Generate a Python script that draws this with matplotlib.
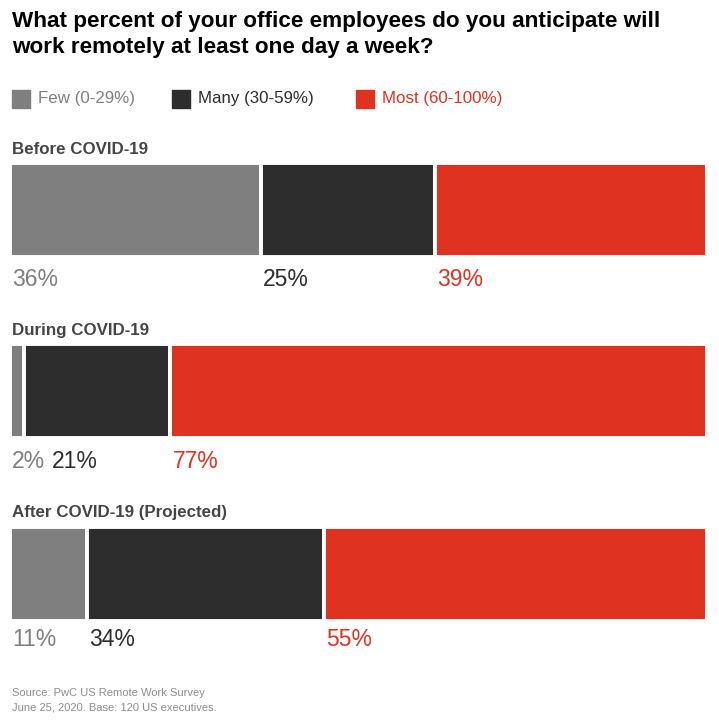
import matplotlib
matplotlib.use("Agg")
import matplotlib.pyplot as plt
from matplotlib.patches import Rectangle

# data
groups = ["Before COVID-19", "During COVID-19", "After COVID-19 (Projected)"]
categories = ["Few (0-29%)", "Many (30-59%)", "Most (60-100%)"]
few = [36, 2, 11]
many = [25, 21, 34]
most = [39, 77, 55]
colors = ["#7f7f7f", "#2d2d2d", "#e03221"]
title_lines = ["What percent of your office employees do you anticipate will",
               "work remotely at least one day a week?"]
source_lines = ["Source: PwC US Remote Work Survey",
                "June 25, 2020. Base: 120 US executives."]

W, H = 719, 720
fig = plt.figure(figsize=(W / 100, H / 100), dpi=100)
# axes spans the bar width; x in percent, y in pixel rows from top
ax = fig.add_axes([10 / W, 0, 697 / W, 1])
ax.set_xlim(0, 100)
ax.set_ylim(H, 0)
ax.axis("off")

sans = ["Liberation Sans", "DejaVu Sans"]

for k, line in enumerate(title_lines):
    fig.text(12 / W, 1 - (27 + 26 * k) / H, line, ha="left", va="baseline",
             fontsize=16.2, fontweight="bold", family=sans, color="black")

# legend
lx = [12, 172, 356]
for i, cat in enumerate(categories):
    fig.patches.append(Rectangle((lx[i] / W, 1 - 108 / H), 18 / W, 18 / H,
                                 transform=fig.transFigure, color=colors[i]))
    fig.text((lx[i] + 26) / W, 1 - 99 / H, cat, ha="left", va="center",
             fontsize=12.2, family=sans, color=colors[i])

bar_top = [163, 344, 527]
label_top = [150, 331, 512]
pct_y = [279, 461, 640]
bar_h = 94

fig.canvas.draw()
renderer = fig.canvas.get_renderer()
inv = ax.transData.inverted()

for g, name in enumerate(groups):
    ax.text(0.3, label_top[g], name, ha="left", va="center", fontsize=12.2,
            fontweight="bold", family=sans, color="#454545")
    vals = [few[g], many[g], most[g]]
    left = 0
    prev_end = -100
    for i, v in enumerate(vals):
        ax.barh(bar_top[g] + bar_h / 2, v, left=left, height=bar_h,
                color=colors[i], edgecolor="white", linewidth=2.8)
        x = left + 0.3
        # keep labels from overlapping
        px = ax.transData.transform((x, 0))[0]
        if px < prev_end + 7:
            x = inv.transform((prev_end + 7, 0))[0]
        t = ax.text(x, pct_y[g], f"{v}%", ha="left", va="center",
                    fontsize=16.5, family=sans, color=colors[i])
        prev_end = t.get_window_extent(renderer).x1
        left += v

for k, line in enumerate(source_lines):
    fig.text(12 / W, 1 - (696 + 14.5 * k) / H, line, ha="left", va="baseline",
             fontsize=8, family=sans, color="#8c8c8c")

fig.savefig("out.png", dpi=100)
